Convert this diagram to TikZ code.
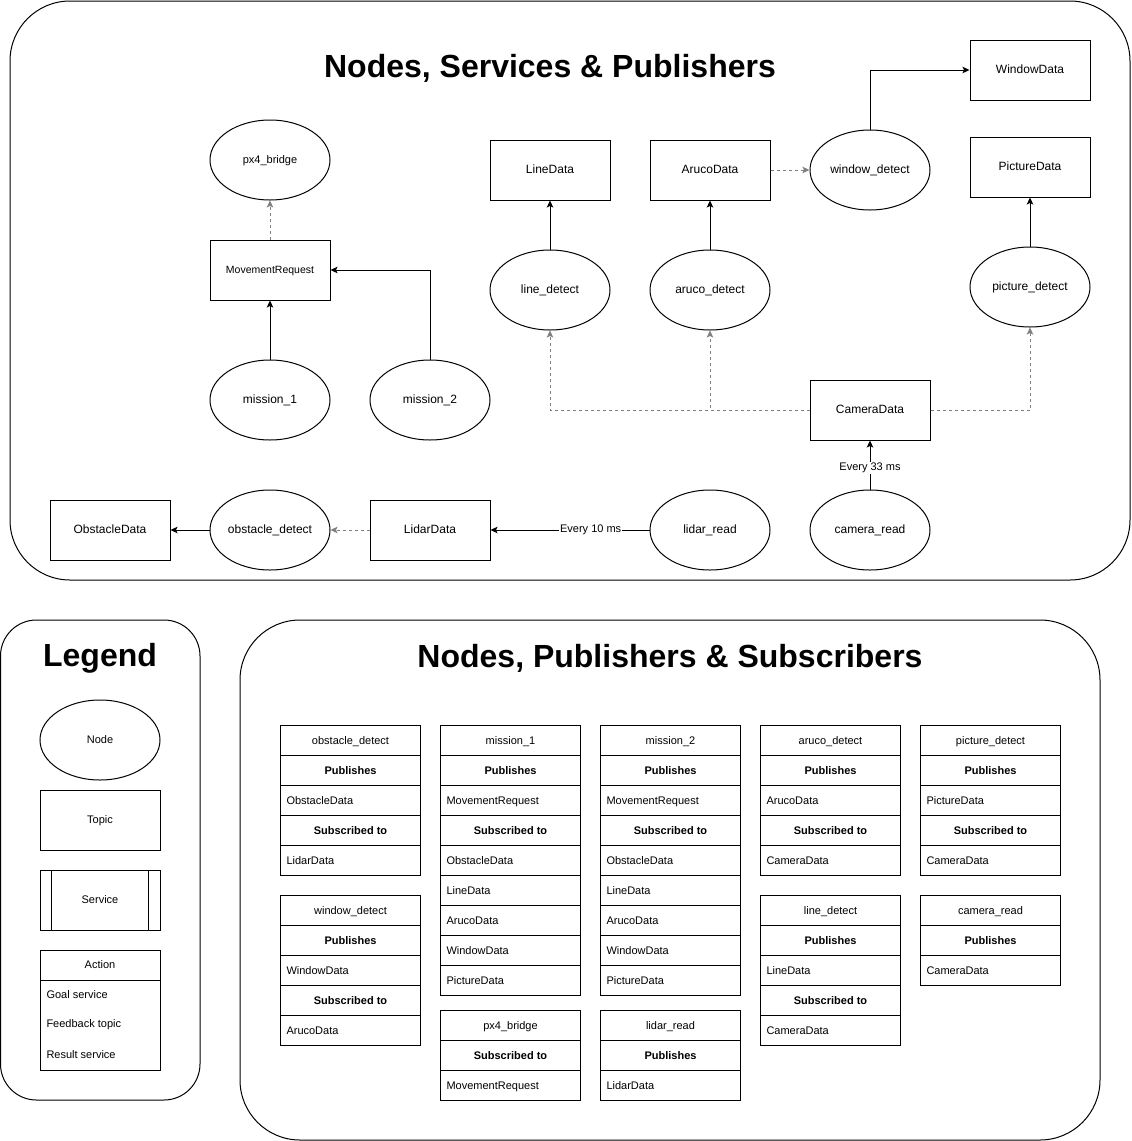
\documentclass[tikz,border=0pt]{standalone}
\usepackage{fontspec}
\setmainfont{Liberation Sans}
\usetikzlibrary{shapes.geometric,arrows.meta}
\newcommand{\rostable}[4]{%
  \foreach [count=\i] \s/\t in {#4} {
    \node[\s, anchor=north west] (#1-\i) at (#2, #3+30*\i-30) {\t};
  }}
\begin{document}
\begin{tikzpicture}[x=1pt,y=-1pt,line width=1pt,
  rosnode/.style={ellipse, draw, minimum width=120pt, minimum height=80pt, inner sep=0pt, text height=0.72em, text depth=0.0em, font=\fontsize{12}{14}\selectfont},
  topic/.style={rectangle, draw, minimum width=120pt, minimum height=60pt, inner sep=0pt, text height=0.72em, text depth=0.0em, font=\fontsize{12}{14}\selectfont},
  pubarrow/.style={-{Stealth[length=7pt,width=6.5pt,inset=1.5pt]}},
  subarrow/.style={-{Stealth[length=7pt,width=6.5pt,inset=1.5pt]}, draw=gray, dash pattern=on 3pt off 3pt},
  title/.style={font=\fontsize{32}{38}\selectfont\bfseries, inner sep=0pt},
  elabel/.style={fill=white, inner sep=1pt, font=\fontsize{11}{13}\selectfont},
  tcell/.style={draw, minimum width=140pt, minimum height=30pt, inner sep=0pt, text height=0.72em, text depth=0.0em, font=\fontsize{11}{13}\selectfont},
  bcell/.style={tcell, font=\fontsize{11}{13}\selectfont\bfseries},
  lcell/.style={tcell, text width=128pt, inner xsep=6pt, align=left}
]
\useasboundingbox (0,0) rectangle (1132,1141);

% containers
\draw[rounded corners=60pt] (10,1) rectangle (1130,580);
\draw[rounded corners=36pt] (0.5,620) rectangle (200,1100);
\draw[rounded corners=60pt] (240,620) rectangle (1100,1140);

\node[title] (t1) at (550,68) {Nodes, Services \& Publishers};
\node[title] (t2) at (100,658) {Legend};
\node[title] (t3) at (670,658) {Nodes, Publishers \& Subscribers};

% upper diagram
\node[rosnode, font=\fontsize{11}{13}\selectfont] (px4) at (270,160) {px4\_bridge};
\node[topic, font=\fontsize{10.5}{12}\selectfont] (mr) at (270,270) {MovementRequest};
\node[rosnode] (m1) at (270,400) {mission\_1};
\node[rosnode] (m2) at (430,400) {mission\_2};

\node[topic] (ldata) at (550,170) {LineData};
\node[topic] (adata) at (710,170) {ArucoData};
\node[rosnode] (wd) at (870,170) {window\_detect};
\node[topic] (wdata) at (1030,70) {WindowData};
\node[topic] (pdata) at (1030,167) {PictureData};

\node[rosnode] (ld) at (550,290) {line\_detect};
\node[rosnode] (ad) at (710,290) {aruco\_detect};
\node[rosnode] (pd) at (1030,287) {picture\_detect};
\node[topic] (cdata) at (870,410) {CameraData};

\node[topic] (odata) at (110,530) {ObstacleData};
\node[rosnode] (od) at (270,530) {obstacle\_detect};
\node[topic] (lidata) at (430,530) {LidarData};
\node[rosnode] (lr) at (710,530) {lidar\_read};
\node[rosnode] (cr) at (870,530) {camera\_read};

\draw[subarrow] (mr.north) -- (px4.south);
\draw[pubarrow] (m1.north) -- (mr.south);
\draw[pubarrow] (m2.north) |- (mr.east);

\draw[pubarrow] (ld.north) -- (ldata.south);
\draw[pubarrow] (ad.north) -- (adata.south);
\draw[pubarrow] (pd.north) -- (pdata.south);
\draw[subarrow] (adata.east) -- (wd.west);
\draw[pubarrow] (wd.north) |- (wdata.west);

\draw[subarrow] (cdata.west) -| (ld.south);
\draw[subarrow] (cdata.west) -| (ad.south);
\draw[subarrow] (cdata.east) -| (pd.south);
\draw[pubarrow] (cr.north) -- node[elabel, pos=0.44] {Every 33 ms} (cdata.south);

\draw[pubarrow] (lr.west) -- node[elabel, pos=0.37] {Every 10 ms} (lidata.east);
\draw[subarrow] (lidata.west) -- (od.east);
\draw[pubarrow] (od.west) -- (odata.east);

% legend
\node[rosnode, font=\fontsize{11}{13}\selectfont] (lgnode) at (100,740) {Node};
\node[topic, font=\fontsize{11}{13}\selectfont] (lgtopic) at (100,820) {Topic};
\node[topic, font=\fontsize{11}{13}\selectfont] (lgserv) at (100,900) {Service};
\draw (lgserv.north west) ++(12,0) -- ++(0,60);
\draw (lgserv.north east) ++(-12,0) -- ++(0,60);
\node[draw, minimum width=120pt, minimum height=120pt, inner sep=0pt] (lgact) at (100,1010) {};
\node[tcell, minimum width=120pt, anchor=north] (lgacth) at (lgact.north) {Action};
\node[anchor=west, inner sep=0pt, font=\fontsize{11}{13}\selectfont] (lga1) at (46,995) {Goal service};
\node[anchor=west, inner sep=0pt, font=\fontsize{11}{13}\selectfont] (lga2) at (46,1025) {Feedback topic};
\node[anchor=west, inner sep=0pt, font=\fontsize{11}{13}\selectfont] (lga3) at (46,1055) {Result service};

% tables
\rostable{tod}{280}{725}{tcell/obstacle\_detect, bcell/Publishes, lcell/ObstacleData, bcell/Subscribed to, lcell/LidarData}
\rostable{twd}{280}{895}{tcell/window\_detect, bcell/Publishes, lcell/WindowData, bcell/Subscribed to, lcell/ArucoData}
\rostable{tm1}{440}{725}{tcell/mission\_1, bcell/Publishes, lcell/MovementRequest, bcell/Subscribed to, lcell/ObstacleData, lcell/LineData, lcell/ArucoData, lcell/WindowData, lcell/PictureData}
\rostable{tpx}{440}{1010}{tcell/px4\_bridge, bcell/Subscribed to, lcell/MovementRequest}
\rostable{tm2}{600}{725}{tcell/mission\_2, bcell/Publishes, lcell/MovementRequest, bcell/Subscribed to, lcell/ObstacleData, lcell/LineData, lcell/ArucoData, lcell/WindowData, lcell/PictureData}
\rostable{tlr}{600}{1010}{tcell/lidar\_read, bcell/Publishes, lcell/LidarData}
\rostable{tad}{760}{725}{tcell/aruco\_detect, bcell/Publishes, lcell/ArucoData, bcell/Subscribed to, lcell/CameraData}
\rostable{tld}{760}{895}{tcell/line\_detect, bcell/Publishes, lcell/LineData, bcell/Subscribed to, lcell/CameraData}
\rostable{tpd}{920}{725}{tcell/picture\_detect, bcell/Publishes, lcell/PictureData, bcell/Subscribed to, lcell/CameraData}
\rostable{tcr}{920}{895}{tcell/camera\_read, bcell/Publishes, lcell/CameraData}
\end{tikzpicture}
\end{document}
